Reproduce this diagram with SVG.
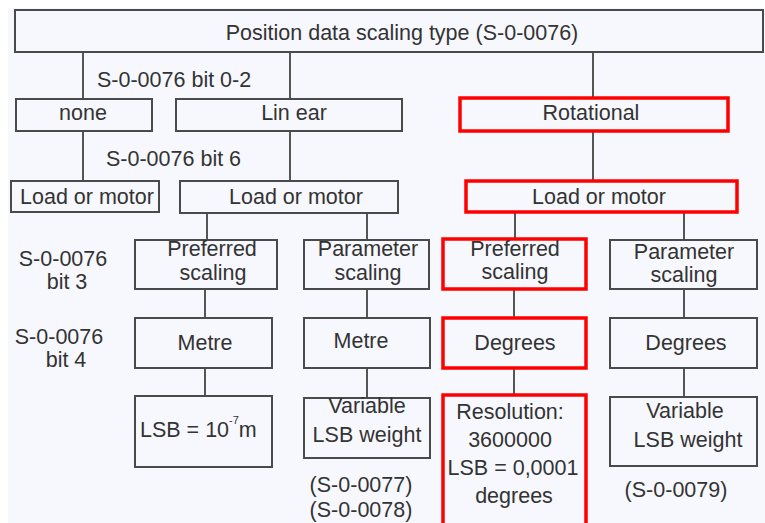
<svg xmlns="http://www.w3.org/2000/svg" width="765" height="523" viewBox="0 0 765 523">
<style>
.bx{fill:#f7f8fd;stroke:#4a4a4a;stroke-width:2}
.rd{fill:#f7f8fd;stroke:#ff0000;stroke-width:3.5}
.ln{stroke:#555;stroke-width:2;fill:none}
text{font-family:"Liberation Sans",Arial,sans-serif;font-size:21.5px;fill:#333}
.c{text-anchor:middle}
.sup{font-size:11px}
</style>
<rect x="0" y="0" width="765" height="523" fill="#ffffff"/>
<rect x="8" y="8" width="757" height="515" fill="#f7f8fd"/>
<g id="connectors">
<path class="ln" d="M83 52V99M83 131V181M290 52V99M290 131V181M593 52V97M593 132V180"/>
<path class="ln" d="M207 213V240M367 213V240M515 212V238M684 212V240"/>
<path class="ln" d="M205 289V318M367 289V318M514 289V317M684 289V318"/>
<path class="ln" d="M205 368V396M367 368V398M514 368V394M684 368V397"/>
</g>
<g id="title"><rect class="bx" x="15" y="10" width="748" height="42"/><text class="c" x="402" y="40">Position data scaling type (S-0-0076)</text></g>
<g id="lbl-bit02"><text x="97" y="87">S-0-0076 bit 0-2</text></g>
<g id="none"><rect class="bx" x="16" y="99" width="136" height="32"/><text class="c" x="83" y="120">none</text></g>
<g id="linear"><rect class="bx" x="176" y="99" width="226" height="32"/><text class="c" x="294" y="120">Lin ear</text></g>
<g id="rotational"><rect class="rd" x="460" y="98" width="268" height="33"/><text class="c" x="591" y="120">Rotational</text></g>
<g id="lbl-bit6"><text x="106" y="166">S-0-0076 bit 6</text></g>
<g id="lm1"><rect class="bx" x="11" y="181" width="148" height="31"/><text class="c" x="87" y="204">Load or motor</text></g>
<g id="lm2"><rect class="bx" x="180" y="181" width="218" height="32"/><text class="c" x="296" y="204">Load or motor</text></g>
<g id="lm3"><rect class="rd" x="466" y="181" width="271" height="31"/><text class="c" x="599" y="204">Load or motor</text></g>
<g id="lbl-bit3"><text class="c" x="63" y="266">S-0-0076</text><text class="c" x="67" y="289">bit 3</text></g>
<g id="lbl-bit4"><text class="c" x="59" y="344">S-0-0076</text><text class="c" x="66" y="367">bit 4</text></g>
<g id="pref1"><rect class="bx" x="135" y="240" width="142" height="49"/><text class="c" x="212" y="256">Preferred</text><text class="c" x="213" y="280">scaling</text></g>
<g id="param1"><rect class="bx" x="304" y="240" width="125" height="49"/><text class="c" x="368" y="256">Parameter</text><text class="c" x="368" y="280">scaling</text></g>
<g id="pref2"><rect class="rd" x="443" y="239" width="143" height="50"/><text class="c" x="515" y="256">Preferred</text><text class="c" x="515" y="279">scaling</text></g>
<g id="param2"><rect class="bx" x="610" y="240" width="147" height="49"/><text class="c" x="684" y="259">Parameter</text><text class="c" x="684" y="282">scaling</text></g>
<g id="metre1"><rect class="bx" x="135" y="318" width="137" height="50"/><text class="c" x="205" y="350">Metre</text></g>
<g id="metre2"><rect class="bx" x="304" y="318" width="126" height="50"/><text class="c" x="361" y="348">Metre</text></g>
<g id="deg1"><rect class="rd" x="443" y="318" width="143" height="50"/><text class="c" x="515" y="350">Degrees</text></g>
<g id="deg2"><rect class="bx" x="610" y="318" width="147" height="50"/><text class="c" x="686" y="350">Degrees</text></g>
<g id="lsb1"><rect class="bx" x="135" y="396" width="137" height="71"/><text x="140" y="437">LSB = 10<tspan class="sup" dy="-13">-7</tspan><tspan dy="13">m</tspan></text></g>
<g id="var1"><rect class="bx" x="304" y="398" width="126" height="60"/><text class="c" x="367" y="413">Variable</text><text class="c" x="367" y="442">LSB weight</text></g>
<g id="res"><rect class="rd" x="443" y="395" width="143" height="140"/><text class="c" x="510" y="419">Resolution:</text><text class="c" x="510" y="447">3600000</text><text class="c" x="513" y="475">LSB = 0,0001</text><text class="c" x="514" y="503">degrees</text></g>
<g id="var2"><rect class="bx" x="610" y="397" width="147" height="69"/><text class="c" x="685" y="418">Variable</text><text class="c" x="688" y="447">LSB weight</text></g>
<g id="notes"><text class="c" x="361" y="492">(S-0-0077)</text><text class="c" x="361" y="517">(S-0-0078)</text><text class="c" x="676" y="497">(S-0-0079)</text></g>
</svg>
